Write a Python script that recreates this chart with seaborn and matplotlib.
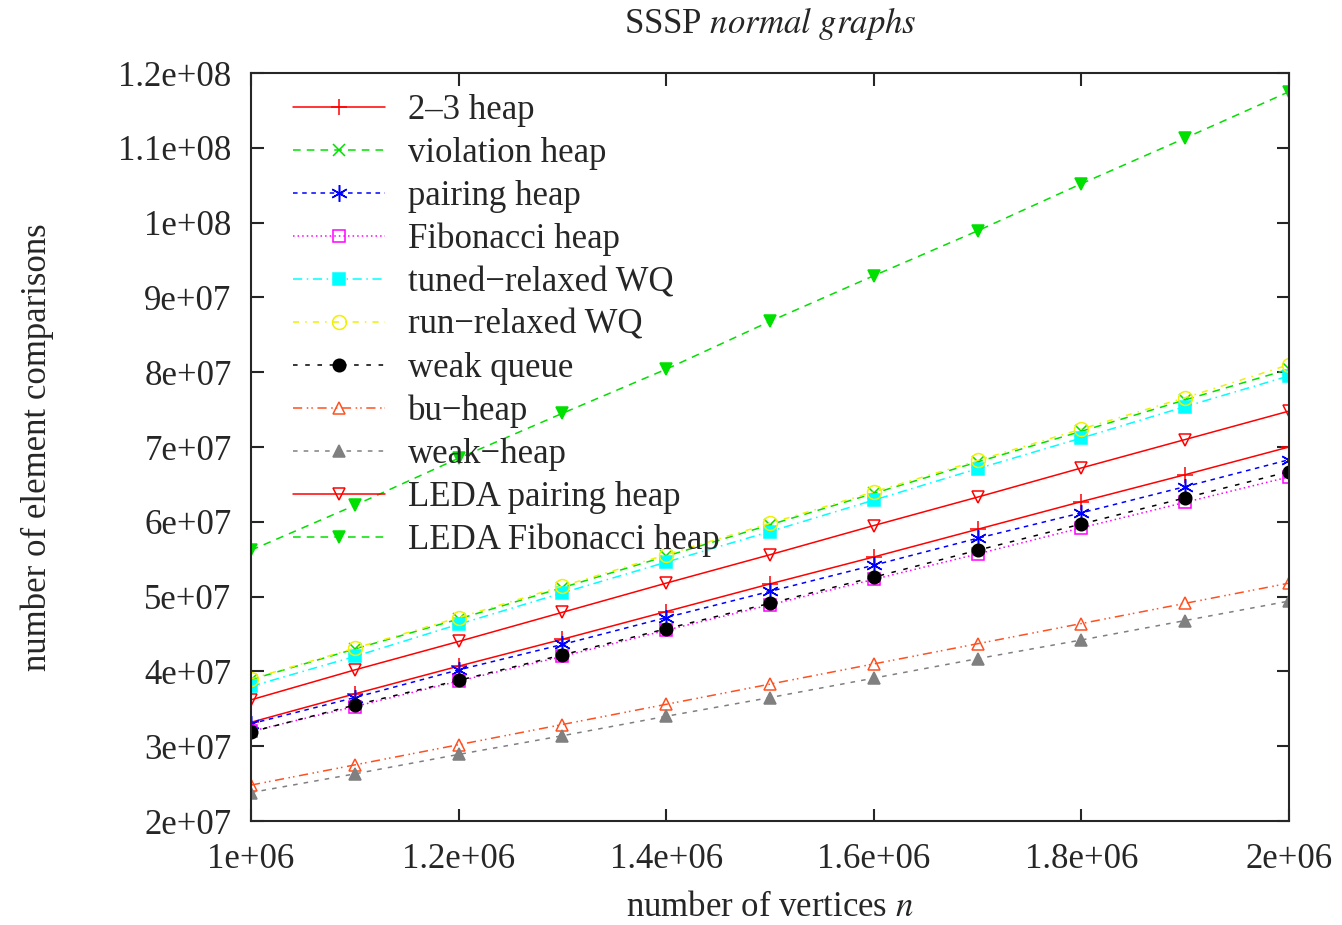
import numpy as np
import pandas as pd
import seaborn as sns
import matplotlib.pyplot as plt
from matplotlib.ticker import FuncFormatter, MultipleLocator

# number of vertices
n = [1.0e6, 1.1e6, 1.2e6, 1.3e6, 1.4e6, 1.5e6, 1.6e6, 1.7e6, 1.8e6, 1.9e6, 2.0e6]

# element comparisons (units of 1e7)
heap23 = [3.32, 3.70, 4.07, 4.43, 4.80, 5.17, 5.53, 5.90, 6.27, 6.63, 7.00]
violation = [3.89, 4.30, 4.70, 5.12, 5.54, 5.96, 6.38, 6.80, 7.21, 7.63, 8.04]
pairing = [3.30, 3.65, 4.02, 4.36, 4.72, 5.07, 5.42, 5.78, 6.12, 6.47, 6.83]
fibonacci = [3.20, 3.53, 3.87, 4.20, 4.55, 4.89, 5.23, 5.57, 5.92, 6.26, 6.60]
tuned_wq = [3.80, 4.20, 4.63, 5.05, 5.46, 5.87, 6.29, 6.71, 7.12, 7.54, 7.95]
run_wq = [3.90, 4.31, 4.72, 5.14, 5.56, 5.98, 6.40, 6.82, 7.24, 7.66, 8.10]
weak_queue = [3.19, 3.55, 3.88, 4.22, 4.57, 4.91, 5.26, 5.62, 5.97, 6.32, 6.67]
bu_heap = [2.48, 2.75, 3.02, 3.29, 3.56, 3.83, 4.10, 4.37, 4.64, 4.91, 5.18]
weak_heap = [2.38, 2.63, 2.89, 3.14, 3.40, 3.65, 3.91, 4.17, 4.42, 4.68, 4.94]
leda_pairing = [3.62, 4.02, 4.40, 4.79, 5.18, 5.56, 5.95, 6.33, 6.72, 7.10, 7.48]
leda_fib = [5.62, 6.22, 6.85, 7.45, 8.04, 8.68, 9.29, 9.89, 10.52, 11.13, 11.75]

# label, values, colour, linestyle, marker, filled, markersize
series = [
    ("2\u20133 heap", heap23, "#ff0000", "-", "+", False, 12),
    ("violation heap", violation, "#00e000", (0, (5, 4)), "x", False, 9),
    ("pairing heap", pairing, "#0000ff", (0, (3, 3)), (6, 2, 0), False, 12),
    ("Fibonacci heap", fibonacci, "#ff00ff", (0, (1, 2)), "s", False, 9),
    ("tuned\u2212relaxed WQ", tuned_wq, "#00ffff", (0, (6, 3, 1, 3)), "s", True, 9),
    ("run\u2212relaxed WQ", run_wq, "#f0f000", (0, (4, 4, 1, 4)), "o", False, 10),
    ("weak queue", weak_queue, "#000000", (0, (3, 5)), "o", True, 9),
    ("bu\u2212heap", bu_heap, "#ff5020", (0, (6, 3, 1, 2, 1, 3)), "^", False, 9),
    ("weak\u2212heap", weak_heap, "#808080", (0, (3, 4)), "^", True, 8),
    ("LEDA pairing heap", leda_pairing, "#ff0000", "-", "v", False, 9),
    ("LEDA Fibonacci heap", leda_fib, "#00e000", (0, (5, 4)), "v", True, 8),
]

sns.set_style("ticks")
plt.rcParams['font.family'] = ['Liberation Serif', 'DejaVu Serif']
plt.rcParams['mathtext.fontset'] = 'stix'

fig = plt.figure(figsize=(13.42, 9.25), dpi=100)
ax = fig.add_axes([251 / 1342, 1 - 821 / 925, (1289 - 251) / 1342, (821 - 73) / 925])

for label, vals, color, ls, mk, filled, size in series:
    df = pd.DataFrame({"n": n, "c": np.array(vals) * 1e7})
    face = color if filled else "none"
    sns.lineplot(data=df, x="n", y="c", ax=ax, color=color, linestyle=ls,
                 linewidth=1.1, marker=mk, markersize=size, markeredgewidth=1.1,
                 markerfacecolor=face, markeredgecolor=color, label=label)

ax.set_xlim(1e6, 2e6)
ax.set_ylim(2e7, 1.2e8)
ax.xaxis.set_major_locator(MultipleLocator(2e5))
ax.yaxis.set_major_locator(MultipleLocator(1e7))


def gfmt(v, pos):
    return "%g" % v


ax.xaxis.set_major_formatter(FuncFormatter(gfmt))
ax.yaxis.set_major_formatter(FuncFormatter(gfmt))
ax.tick_params(direction="in", length=9, width=1.5, labelsize=25,
               top=True, right=True)
ax.tick_params(axis="y", pad=14)
ax.tick_params(axis="x", pad=16)
for sp in ax.spines.values():
    sp.set_linewidth(1.5)

ax.set_xlabel("number of vertices $\\mathit{n}$", fontsize=25, labelpad=11)
ax.set_ylabel("number of element comparisons", fontsize=25, labelpad=46)
ax.set_title("SSSP $\\mathit{normal\\ graphs}$", fontsize=25, pad=29)

leg = ax.legend(loc="upper left", frameon=False, fontsize=25, handlelength=2.65,
                handletextpad=0.66, labelspacing=0.285, borderaxespad=0,
                borderpad=0, bbox_to_anchor=(0.0405, 0.972))

fig.savefig("out.png", dpi=100)
